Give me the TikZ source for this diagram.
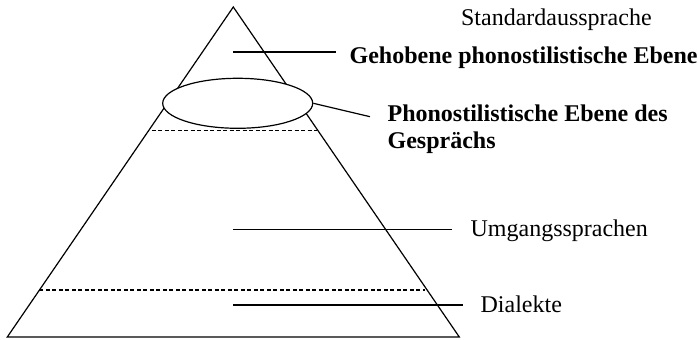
\documentclass[tikz,border=0pt]{standalone}
\usepackage{fontspec}
\setmainfont{Liberation Serif}
\usetikzlibrary{shapes.geometric}

\begin{document}
\begin{tikzpicture}[x=0.5pt, y=-0.5pt, line width=0.6pt,
  every node/.style={font=\fontsize{12pt}{13.5pt}\selectfont, inner sep=0pt},
  lbl/.style={anchor=base west},
  lblbold/.style={anchor=base west, font=\fontsize{12pt}{13.5pt}\selectfont\bfseries},
  layer/.style={dash pattern=on 2pt off 1.25pt}]
\useasboundingbox (0,0) rectangle (698,340);
% pyramid
\coordinate (top) at (233.3,7);
\coordinate (bl) at (7.3,337);
\coordinate (br) at (459.3,337);
\draw (top) -- (br) -- (bl) -- cycle;
\draw[layer] (151.7,130.7) -- (316.7,130.7);
\draw[layer] (39.3,290) -- (425,290);
\node[draw, fill=white, ellipse, minimum width=75pt, minimum height=25pt] (ell) at (237.7,103.3) {};
% labels
\node[lbl] (std) at (460.5,26) {Standardaussprache};
\node[lblbold] (geh) at (349,64) {Gehobene phonostilistische Ebene};
\node[lblbold, anchor=west, align=left] (ges) at (387,129) {Phonostilistische Ebene des\\Gesprächs};
\node[lbl] (umg) at (470,237) {Umgangssprachen};
\node[lbl] (dia) at (480,313) {Dialekte};
% leader lines
\coordinate (geh0) at (233.3,52);
\coordinate (geh1) at (336,52);
\coordinate (ges1) at (370,116.7);
\coordinate (umg0) at (233.3,229.3);
\coordinate (umg1) at (451.7,229.3);
\coordinate (dia0) at (233.3,305);
\coordinate (dia1) at (463,305);
\draw (geh0) -- (geh1);
\draw (ell.east) -- (ges1);
\draw (umg0) -- (umg1);
\draw (dia0) -- (dia1);
\end{tikzpicture}
\end{document}
